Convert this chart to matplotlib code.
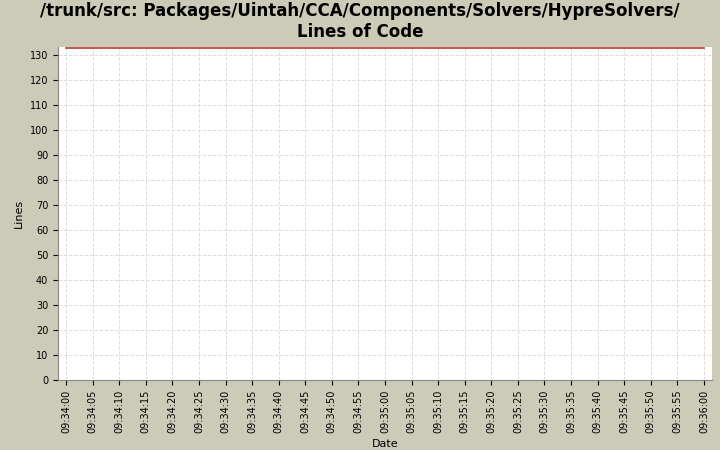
import matplotlib
matplotlib.use("Agg")
import matplotlib.pyplot as plt
import pandas as pd

# Data: lines of code over time (flat)
times = ["09:34:00", "09:36:00"]
lines = [133, 133]

x = pd.to_datetime(["2000-01-01 " + t for t in times])
tick_labels = pd.date_range(x[0], x[-1], freq="5s")

fig = plt.figure(figsize=(7.2, 4.5), dpi=100, facecolor="#cccbb7")
ax = fig.add_axes([58/720, 70/450, 654/720, 333/450])
ax.set_facecolor("white")
ax.plot(x, lines, color="#c0392b", linewidth=1.2)

span = (x[-1] - x[0]) * (8/637)
ax.set_xlim(x[0] - span, x[-1] + span)
ax.set_ylim(0, 133.4)
ax.set_yticks(range(0, 131, 10))
ax.set_xticks(tick_labels)
ax.set_xticklabels([t.strftime("%H:%M:%S") for t in tick_labels], rotation=90, fontsize=7)
ax.tick_params(axis="y", labelsize=7)
ax.grid(True, color="#dddddd", linestyle="--", linewidth=0.7)
for s in ["top", "right"]:
    ax.spines[s].set_visible(False)
for s in ["left", "bottom"]:
    ax.spines[s].set_color("#888888")
ax.set_xlabel("Date", fontsize=8)
ax.set_ylabel("Lines", fontsize=8)
fig.suptitle("/trunk/src: Packages/Uintah/CCA/Components/Solvers/HypreSolvers/\nLines of Code",
             fontsize=12, fontweight="bold", y=0.995)
fig.savefig("out.png", dpi=100, facecolor=fig.get_facecolor())
